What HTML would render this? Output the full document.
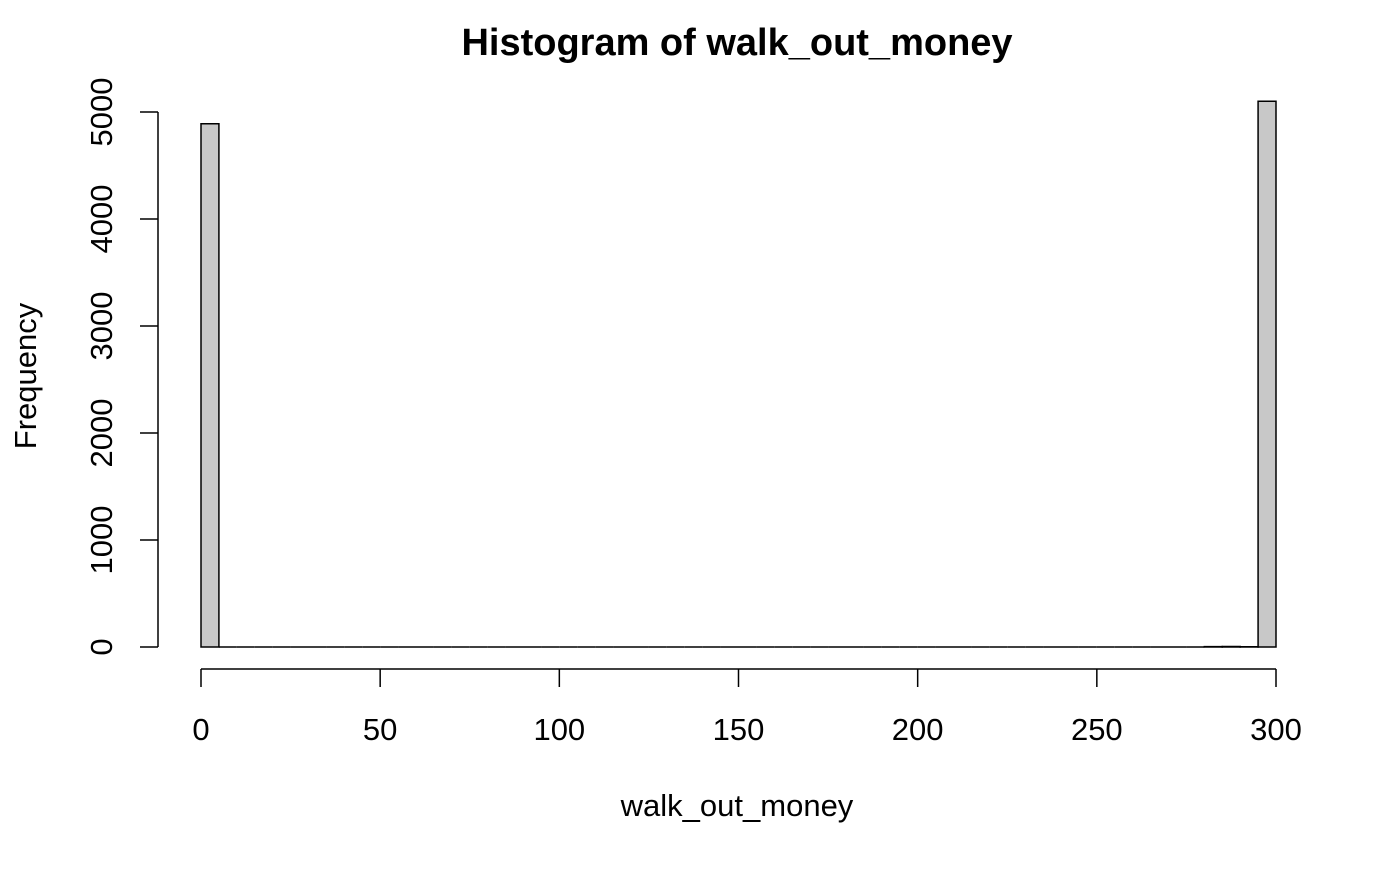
<!DOCTYPE html>
<html><head><meta charset="utf-8"><style>
html,body{margin:0;padding:0;background:#fff;}
svg text{font-family:"Liberation Sans",Arial,sans-serif;}
</style></head>
<body>
<svg id="chart" width="1400" height="865" xmlns="http://www.w3.org/2000/svg">
<text x="737" y="55" text-anchor="middle" font-size="38" font-weight="bold">Histogram of walk_out_money</text>
<text x="737" y="816" text-anchor="middle" font-size="31">walk_out_money</text>
<text transform="translate(36,376) rotate(-90)" text-anchor="middle" font-size="31">Frequency</text>
<g id="bars"></g>
<g id="xaxis"></g>
<g id="yaxis"></g>
</svg>
<script>
const binStart = 0, binWidth = 5;
const counts = [4890,0,0,0,0,0,0,0,0,0,0,0,0,0,0,0,0,0,0,0,0,0,0,0,0,0,0,0,0,0,0,0,0,0,0,0,0,0,0,0,0,0,0,0,0,0,0,0,0,0,0,0,0,0,0,0,3,5,2,5100];
const xTicks = [0,50,100,150,200,250,300];
const yTicks = [0,1000,2000,3000,4000,5000];
const NS = "http://www.w3.org/2000/svg";
const X = v => 201 + v * (1276 - 201) / 300;
const Y = v => 647 - v * 0.107;
function mk(tag, attrs, parent, text){
  const e = document.createElementNS(NS, tag);
  for (const k in attrs) e.setAttribute(k, attrs[k]);
  if (text !== undefined) e.textContent = text;
  parent.appendChild(e); return e;
}
const bars = document.getElementById('bars');
counts.forEach((c, i) => {
  const x0 = X(binStart + i*binWidth), x1 = X(binStart + (i+1)*binWidth);
  const d = 'M' + x0 + ',' + Y(0) + 'L' + x0 + ',' + Y(c) + 'L' + x1 + ',' + Y(c) + 'L' + x1 + ',' + Y(0) + 'Z';
  const r = mk('path', {d: d, fill: '#c8c8c8', stroke: '#000', 'stroke-width': 1.5}, bars);
  
  
});
const xa = document.getElementById('xaxis');
mk('line', {x1: X(0), x2: X(300), y1: 669, y2: 669, stroke: '#000', 'stroke-width': 1.5}, xa);
xTicks.forEach(t => {
  mk('line', {x1: X(t), x2: X(t), y1: 669, y2: 687, stroke: '#000', 'stroke-width': 1.5}, xa);
  const tx = mk('text', {x: X(t), y: 740, 'text-anchor': 'middle', 'font-size': 31}, xa, String(t));
  
  
});
const ya = document.getElementById('yaxis');
mk('line', {x1: 158, x2: 158, y1: Y(0), y2: Y(5000), stroke: '#000', 'stroke-width': 1.5}, ya);
yTicks.forEach(t => {
  mk('line', {x1: 140, x2: 158, y1: Y(t), y2: Y(t), stroke: '#000', 'stroke-width': 1.5}, ya);
  const tx = mk('text', {'text-anchor': 'middle', 'font-size': 31, transform: 'translate(112,' + Y(t) + ') rotate(-90)'}, ya, String(t));
  
  
});
</script>
</body></html>
